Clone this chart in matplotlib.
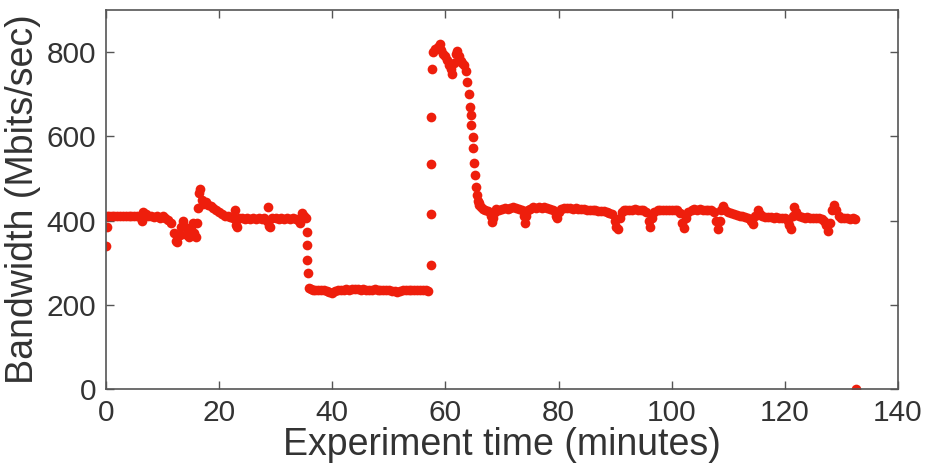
import numpy as np
import matplotlib
matplotlib.use("Agg")
import matplotlib.pyplot as plt

# Phase 1: ~410 Mbit/s
phase1_t = [0.0, 0.1, 0.25, 0.5, 1.0, 1.5, 2.0, 2.5, 3.0, 3.5, 4.0, 4.5, 5.0, 5.5, 6.0, 6.3, 6.6,
            7.0, 7.5, 8.0, 8.5, 9.0, 9.5, 10.0, 10.5, 11.0, 11.5, 12.0, 12.3, 12.6, 13.0, 13.3,
            13.6, 14.0, 14.3, 14.6, 15.0, 15.3, 15.6, 15.9, 16.1, 16.3, 16.5, 16.7, 16.9, 17.2,
            17.6, 18.0, 18.5, 19.0, 19.5, 20.0, 20.5, 21.0, 21.5, 22.0, 22.5, 22.8, 23.0, 23.2,
            23.5, 24.0, 24.5, 25.0, 25.5, 26.0, 26.5, 27.0, 27.5, 28.0, 28.4, 28.6, 28.8, 29.0,
            29.3, 30.0, 30.5, 31.0, 31.5, 32.0, 32.5, 33.0, 33.5, 34.0, 34.3, 34.6, 35.0, 35.3]
phase1_bw = [340, 385, 410, 412, 410, 412, 411, 410, 412, 410, 411, 410, 412, 410, 408, 398, 420,
             415, 410, 412, 408, 410, 406, 410, 405, 402, 395, 370, 352, 350, 365, 385,
             400, 385, 365, 360, 380, 395, 370, 360, 395, 430, 465, 476, 450, 440,
             445, 438, 435, 430, 425, 420, 415, 412, 410, 408, 405, 425, 390, 385,
             405, 405, 403, 405, 404, 405, 404, 405, 404, 405, 400, 432, 388, 385,
             405, 405, 404, 405, 404, 405, 404, 405, 404, 402, 395, 418, 412, 405]

# Drop to the low plateau
drop_t = [35.5, 35.55, 35.6, 35.65]
drop_bw = [373, 342, 306, 275]

# Phase 2: ~235 Mbit/s
phase2_t = [35.8, 36.2, 36.6, 37.0, 37.5, 38.0, 38.5, 39.0, 39.5, 40.0, 40.5, 41.0, 41.5, 42.0,
            42.5, 43.0, 43.5, 44.0, 44.5, 45.0, 45.5, 46.0, 46.5, 47.0, 47.5, 48.0, 48.5, 49.0,
            49.5, 50.0, 50.5, 51.0, 51.5, 52.0, 52.5, 53.0, 53.5, 54.0, 54.5, 55.0, 55.5, 56.0,
            56.5, 57.0]
phase2_bw = [240, 237, 236, 236, 235, 236, 235, 233, 230, 228, 232, 235, 236, 236,
             237, 236, 237, 238, 237, 236, 237, 236, 235, 236, 237, 236, 235, 236,
             235, 234, 233, 232, 230, 233, 235, 236, 235, 236, 235, 236, 235, 236,
             235, 233]

# Jump up
jump_t = [57.5, 57.5, 57.5, 57.5, 57.55]
jump_bw = [294, 416, 534, 645, 760]

# Phase 3: ~800 Mbit/s and decline
phase3_t = [57.8, 58.2, 58.6, 59.0, 59.3, 59.6, 60.0, 60.3, 60.6, 61.0, 61.2, 61.5, 61.8, 62.1,
            62.4, 62.7, 63.0, 63.3, 63.6, 63.9, 64.1, 64.3, 64.45, 64.6, 64.8, 64.95, 65.1,
            65.25, 65.4, 65.55, 65.7, 65.85]
phase3_bw = [800, 808, 812, 820, 805, 795, 790, 782, 770, 760, 748, 775, 795, 803,
             790, 780, 775, 770, 755, 730, 700, 670, 650, 627, 598, 572, 537,
             508, 480, 461, 447, 437]

# Phase 4: ~425 Mbit/s
phase4_t = [66.0, 66.3, 66.6, 67.0, 67.5, 68.0, 68.2, 68.4, 68.7, 69.0, 69.5, 70.0, 70.5, 71.0,
            71.5, 72.0, 72.5, 73.0, 73.5, 73.9, 74.1, 74.3, 74.6, 75.0, 75.5, 76.0, 76.5, 77.0,
            77.5, 78.0, 78.5, 79.0, 79.5, 79.7, 80.0, 80.5, 81.0, 81.5, 82.0, 82.5, 83.0, 83.5,
            84.0, 84.5, 85.0, 85.5, 86.0, 86.5, 87.0, 87.5, 88.0, 88.5, 89.0, 89.5, 89.9, 90.2,
            90.5, 90.8, 91.2, 91.5, 92.0, 92.5, 93.0, 93.5, 94.0, 94.5, 95.0, 95.5, 95.9, 96.2,
            96.5, 96.9, 97.5, 98.0, 98.5, 99.0, 99.5, 100.0, 100.5, 101.0, 101.5, 101.9, 102.2,
            102.5, 102.9, 103.5, 104.0, 104.5, 105.0, 105.5, 106.0, 106.5, 107.0, 107.5, 107.9,
            108.2, 108.5, 108.8, 109.1, 109.5, 110.0, 110.5, 111.0, 111.5, 112.0, 112.5, 113.0,
            113.5, 114.0, 114.4, 114.8, 115.2, 115.6, 116.0, 116.5, 117.0, 117.5, 118.0, 118.5,
            119.0, 119.5, 120.0, 120.5, 120.8, 121.1, 121.4, 121.7, 122.0, 122.5, 123.0, 123.5,
            124.0, 124.5, 125.0, 125.5, 126.0, 126.5, 127.0, 127.3, 127.6, 128.0, 128.4, 128.7,
            129.0, 129.5, 130.0, 130.5, 131.0, 131.5, 132.0, 132.4]
phase4_bw = [442, 432, 428, 425, 422, 410, 397, 405, 420, 428, 426, 428, 430, 428,
             430, 432, 430, 428, 426, 410, 395, 410, 425, 428, 432, 430, 433, 430,
             432, 430, 428, 425, 412, 405, 420, 428, 430, 431, 430, 428, 430, 428,
             427, 428, 425, 426, 424, 425, 423, 422, 422, 420, 418, 415, 400, 385,
             380, 405, 420, 425, 426, 424, 426, 428, 425, 426, 424, 420, 400, 385,
             405, 420, 424, 425, 426, 424, 426, 425, 424, 425, 418, 395, 382,
             405, 420, 425, 428, 426, 428, 425, 426, 424, 425, 420, 400,
             380, 400, 425, 435, 425, 420, 418, 416, 414, 412, 410, 408,
             405, 400, 392, 412, 426, 415, 410, 409, 408, 408, 407, 408,
             407, 406, 405, 400, 390, 380, 410, 432, 420, 410, 408, 407,
             408, 407, 406, 406, 405, 404, 400, 390, 376, 395, 425, 438,
             425, 410, 407, 405, 405, 404, 405, 404]

# Final sample
final_t = [132.5]
final_bw = [0]

x_ticks = [0, 20, 40, 60, 80, 100, 120, 140]
y_ticks = [0, 200, 400, 600, 800]

t = np.concatenate([phase1_t, drop_t, phase2_t, jump_t, phase3_t, phase4_t, final_t])
bw = np.concatenate([phase1_bw, drop_bw, phase2_bw, jump_bw, phase3_bw, phase4_bw, final_bw])

plt.rcParams['font.family'] = ['Liberation Sans', 'DejaVu Sans']

fig = plt.figure(figsize=(9.28, 4.71), dpi=100)
ax = fig.add_axes([106/928, 1 - 389/471, (898 - 106)/928, (389 - 10)/471])

ax.plot(t, bw, linestyle='none', marker='o', markersize=7, color='#ee1e0c',
        markeredgewidth=0, clip_on=True, zorder=3)

ax.set_xlim(0, 140)
ax.set_ylim(0, 900)
ax.set_xticks(x_ticks)
ax.set_yticks(y_ticks)
ax.tick_params(direction='in', top=True, right=True, length=6, width=1, color='#555555',
               labelsize=21.5, labelcolor='#333333', pad=7)
for s in ax.spines.values():
    s.set_color('#555555')
    s.set_linewidth(1.2)
    s.set_zorder(4)

ax.set_xlabel('Experiment time (minutes)', fontsize=27, color='#333333', labelpad=0)
ax.set_ylabel('Bandwidth (Mbits/sec)', fontsize=27, color='#333333', labelpad=4)

fig.savefig('out.png', dpi=100)
